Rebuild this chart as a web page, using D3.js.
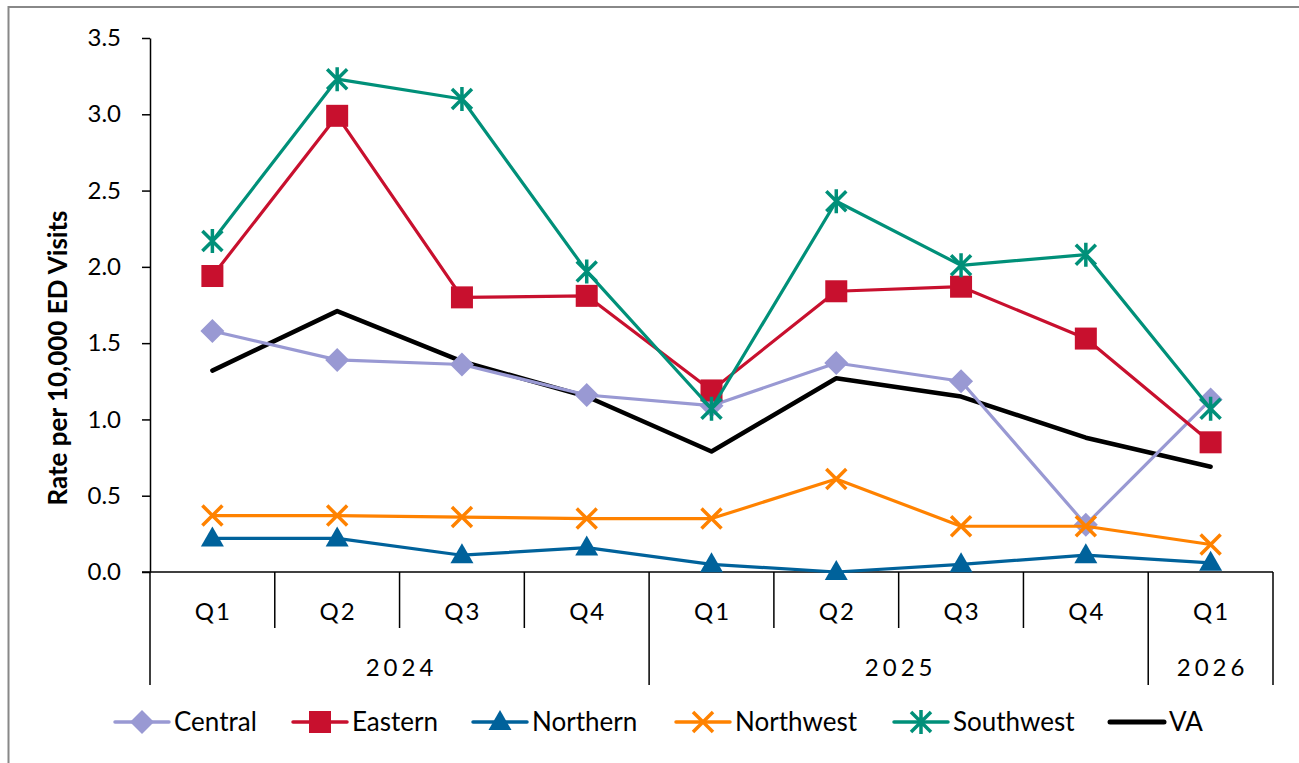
<!DOCTYPE html>
<html>
<head>
<meta charset="utf-8">
<script src="https://cdn.jsdelivr.net/npm/d3@7"></script>
<style>
  body { margin: 0; background: #fff; }
  svg { display: block; font-family: Lato, "Open Sans", sans-serif; }
</style>
</head>
<body>
<div id="chart"></div>
<script>
// quarters along the x axis, grouped by year
var quarters = ["Q1", "Q2", "Q3", "Q4", "Q1", "Q2", "Q3", "Q4", "Q1"];
var yearLabels = ["2024", "2025", "2026"];
var yearSpans = [4, 4, 1];
var yTicks = [0, 0.5, 1.0, 1.5, 2.0, 2.5, 3.0, 3.5];

var central   = [1.58, 1.39, 1.36, 1.16, 1.09, 1.37, 1.25, 0.31, 1.13];
var eastern   = [1.94, 2.99, 1.80, 1.81, 1.19, 1.84, 1.87, 1.53, 0.85];
var northern  = [0.22, 0.22, 0.11, 0.16, 0.05, 0.00, 0.05, 0.11, 0.06];
var northwest = [0.37, 0.37, 0.36, 0.35, 0.35, 0.61, 0.30, 0.30, 0.18];
var southwest = [2.17, 3.23, 3.10, 1.97, 1.07, 2.43, 2.01, 2.08, 1.07];
var va        = [1.32, 1.71, 1.38, 1.15, 0.79, 1.27, 1.15, 0.88, 0.69];

var seriesNames = ["Central", "Eastern", "Northern", "Northwest", "Southwest", "VA"];
var seriesValues = [central, eastern, northern, northwest, southwest, va];
var seriesColors = ["#9999d3", "#c8102e", "#00629b", "#ff8200", "#009079", "#000000"];
var seriesMarkers = ["diamond", "square", "triangle", "x", "star", "none"];

var W = 1299, H = 763;
var plotLeft = 150, plotRight = 1273, plotTop = 38, plotBottom = 572;

var svg = d3.select("#chart").append("svg")
  .attr("width", W)
  .attr("height", H);

// outer frame
svg.append("path")
  .attr("d", "M 8.5 " + (H + 5) + " L 8.5 7 L " + (W + 5) + " 7")
  .attr("fill", "none")
  .attr("stroke", "#888")
  .attr("stroke-width", 2);

var x = d3.scaleBand()
  .domain(d3.range(quarters.length))
  .range([plotLeft, plotRight])
  .padding(0);

var y = d3.scaleLinear()
  .domain([0, 3.5])
  .range([plotBottom, plotTop]);

// y axis
var yAxis = svg.append("g")
  .attr("transform", "translate(" + plotLeft + ",0)")
  .call(d3.axisLeft(y).tickValues(yTicks).tickFormat(d3.format(".1f")).tickSize(8).tickSizeOuter(0));
yAxis.select(".domain").attr("stroke", "#000").attr("stroke-width", 1.5);
yAxis.selectAll(".tick line").attr("stroke", "#000").attr("stroke-width", 1.5);
yAxis.selectAll(".tick text")
  .attr("x", -29)
  .attr("fill", "#000")
  .style("font-size", "24px")
  .style("font-family", "Lato, sans-serif");

svg.append("text")
  .attr("transform", "translate(67,358) rotate(-90)")
  .attr("text-anchor", "middle")
  .attr("font-weight", "bold")
  .style("font-size", "26px")
  .attr("fill", "#000")
  .text("Rate per 10,000 ED Visits");

// x axis: baseline, quarter dividers, year dividers
svg.append("line")
  .attr("x1", plotLeft - 8).attr("x2", plotRight)
  .attr("y1", y(0)).attr("y2", y(0))
  .attr("stroke", "#000").attr("stroke-width", 1.5);

var yearStarts = [0];
yearSpans.forEach(function(n, i) { yearStarts.push(yearStarts[i] + n); });

function edgeX(i) {
  return i < quarters.length ? x(i) : x.range()[1];
}

svg.selectAll(".qdiv")
  .data(d3.range(quarters.length + 1))
  .enter().append("line")
  .attr("class", "qdiv")
  .attr("x1", edgeX)
  .attr("x2", edgeX)
  .attr("y1", y(0))
  .attr("y2", function(i) { return yearStarts.indexOf(i) >= 0 ? 685 : 628; })
  .attr("stroke", "#000")
  .attr("stroke-width", 1.5);

svg.selectAll(".qlab")
  .data(quarters)
  .enter().append("text")
  .attr("class", "qlab")
  .attr("x", function(d, i) { return x(i) + x.bandwidth() / 2 + 1; })
  .attr("y", 620)
  .attr("text-anchor", "middle")
  .style("font-size", "24px")
  .style("letter-spacing", "2px")
  .attr("fill", "#000")
  .text(function(d) { return d; });

svg.selectAll(".ylab")
  .data(yearLabels)
  .enter().append("text")
  .attr("class", "ylab")
  .attr("x", function(d, i) { return (edgeX(yearStarts[i]) + edgeX(yearStarts[i + 1])) / 2 + 2; })
  .attr("y", 676)
  .attr("text-anchor", "middle")
  .style("font-size", "24px")
  .style("letter-spacing", "4px")
  .attr("fill", "#000")
  .text(function(d) { return d; });

// markers
function drawMarker(g, type, color, cx, cy) {
  if (type == "diamond") {
    g.append("path")
      .attr("d", "M " + cx + " " + (cy - 12) + " l 12 12 -12 12 -12 -12 Z")
      .attr("fill", color);
  } else if (type == "square") {
    g.append("rect")
      .attr("x", cx - 11).attr("y", cy - 11)
      .attr("width", 22).attr("height", 22)
      .attr("fill", color);
  } else if (type == "triangle") {
    g.append("path")
      .attr("d", "M " + cx + " " + (cy - 12) + " l 11.5 20 -23 0 Z")
      .attr("fill", color);
  } else if (type == "x") {
    g.append("path")
      .attr("d", "M " + (cx - 10) + " " + (cy - 10) + " l 20 20 M " + (cx + 10) + " " + (cy - 10) + " l -20 20")
      .attr("stroke", color)
      .attr("stroke-width", 3.5)
      .attr("fill", "none");
  } else if (type == "star") {
    g.append("path")
      .attr("d", "M " + (cx - 10) + " " + (cy - 10) + " l 20 20 M " + (cx + 10) + " " + (cy - 10) + " l -20 20 M " + cx + " " + (cy - 12) + " l 0 24")
      .attr("stroke", color)
      .attr("stroke-width", 3.5)
      .attr("fill", "none");
  }
}

var line = d3.line()
  .x(function(d, i) { return x(i) + x.bandwidth() / 2; })
  .y(function(d) { return y(d); });

var drawOrder = [5, 0, 1, 2, 3, 4];
drawOrder.forEach(function(k) {
  var g = svg.append("g");
  g.append("path")
    .datum(seriesValues[k])
    .attr("d", line)
    .attr("fill", "none")
    .attr("stroke", seriesColors[k])
    .attr("stroke-width", k == 5 ? 4.5 : 3.2)
    .attr("stroke-linejoin", "round")
    .attr("stroke-linecap", "round");
  seriesValues[k].forEach(function(v, i) {
    drawMarker(g, seriesMarkers[k], seriesColors[k], x(i) + x.bandwidth() / 2, y(v));
  });
});

// legend
var legendX = [115, 293, 473, 676, 894, 1110];
var legendY = 722;
seriesNames.forEach(function(name, k) {
  var g = svg.append("g");
  var lx = legendX[k];
  g.append("line")
    .attr("x1", lx).attr("x2", lx + 54)
    .attr("y1", legendY).attr("y2", legendY)
    .attr("stroke", seriesColors[k])
    .attr("stroke-width", k == 5 ? 5 : 3.5)
    .attr("stroke-linecap", "round");
  drawMarker(g, seriesMarkers[k], seriesColors[k], lx + 27, legendY);
  g.append("text")
    .attr("x", lx + 59)
    .attr("y", legendY + 9)
    .style("font-size", "26px")
    .attr("fill", "#000")
    .text(name);
});
</script>
</body>
</html>
